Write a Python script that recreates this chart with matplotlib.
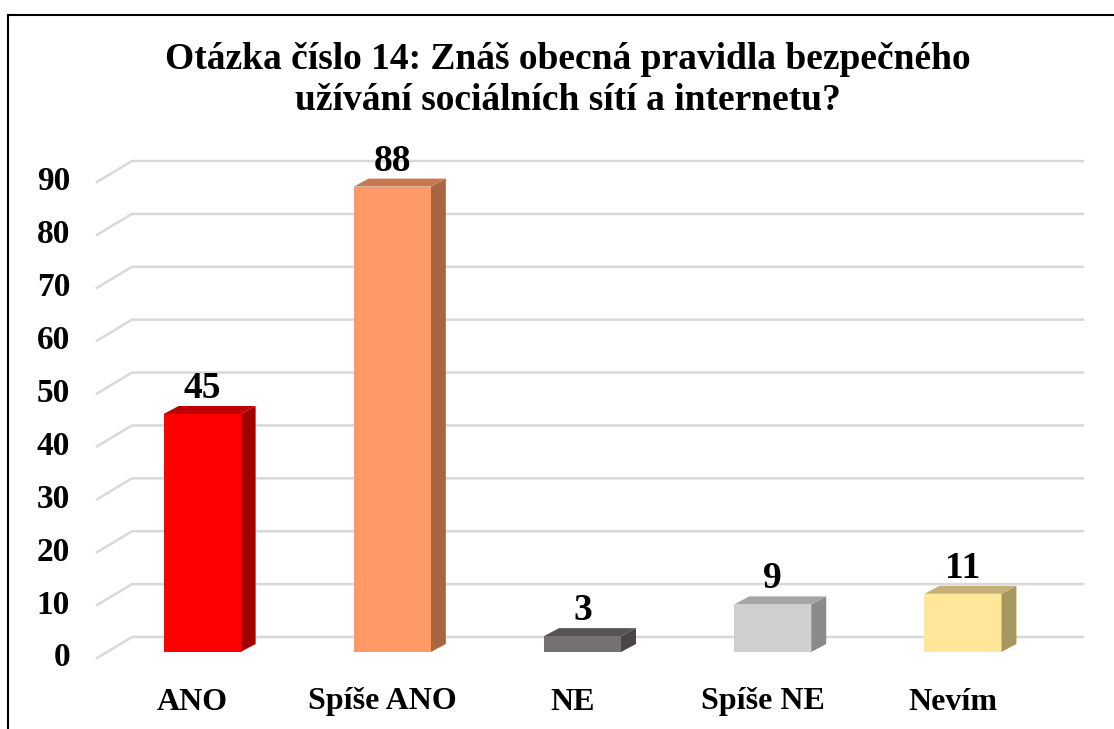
import matplotlib
matplotlib.use("Agg")
import matplotlib.pyplot as plt
from matplotlib.patches import Polygon
from matplotlib.lines import Line2D
import matplotlib.transforms as mtransforms

categories = ["ANO", "Spíše ANO", "NE", "Spíše NE", "Nevím"]
values = [45, 88, 3, 9, 11]
yticks = [0, 10, 20, 30, 40, 50, 60, 70, 80, 90]
title = "Otázka číslo 14: Znáš obecná pravidla bezpečného\nužívání sociálních sítí a internetu?"

front_colors = ["#FF0000", "#FF9966", "#767171", "#D0CECE", "#FFE699"]
top_colors = ["#C00000", "#C8784F", "#575353", "#A5A5A5", "#C6B173"]
side_colors = ["#A00000", "#A86640", "#4A4646", "#8A8A8A", "#A69760"]

plt.rcParams['font.family'] = ['Liberation Serif', 'DejaVu Serif']
plt.rcParams['font.weight'] = 'bold'

fig = plt.figure(figsize=(11.14, 7.29), dpi=100)
W, H = 1114, 729
ax = fig.add_axes([107 / W, 77 / H, 951 / W, 476 / H])
ax.set_xlim(-0.5, 4.5)
ax.set_ylim(0, 90)
ax.axis("off")

def off(dx, dy):
    return mtransforms.offset_copy(ax.transData, fig=fig, x=dx, y=dy, units='dots')

inv = ax.transData.inverted()

def shifted(pt, dx, dy):
    return tuple(inv.transform(off(dx, dy).transform(pt)))

# depth offsets (pixels)
fdx, fdy = -10, -6     # floor front relative to bar plane
bdx, bdy = 25, 15      # back wall relative to bar plane
dx, dy = 15, 8         # bar depth

grid_c = "#D9D9D9"
for v in yticks:
    p0 = shifted((-0.5, v), fdx, fdy)
    p1 = shifted((-0.5, v), bdx, bdy)
    p2 = shifted((4.5, v), bdx, bdy)
    ax.add_line(Line2D([p0[0], p1[0], p2[0]], [p0[1], p1[1], p2[1]],
                       color=grid_c, lw=1.8, zorder=1, clip_on=False))
    ax.text(-0.5, v, str(v), transform=off(-37, fdy), ha='right', va='center',
            fontsize=24, fontweight='bold', color='black')

barw = 0.405
for i, (cat, v) in enumerate(zip(categories, values)):
    x0, x1 = i - barw / 2, i + barw / 2
    side = [(x1, 0), shifted((x1, 0), dx, dy), shifted((x1, v), dx, dy), (x1, v)]
    top = [(x0, v), (x1, v), shifted((x1, v), dx, dy), shifted((x0, v), dx, dy)]
    front = [(x0, 0), (x1, 0), (x1, v), (x0, v)]
    ax.add_patch(Polygon(side, closed=True, facecolor=side_colors[i], edgecolor='none', zorder=3, clip_on=False))
    ax.add_patch(Polygon(top, closed=True, facecolor=top_colors[i], edgecolor='none', zorder=3, clip_on=False))
    ax.add_patch(Polygon(front, closed=True, facecolor=front_colors[i], edgecolor='none', zorder=4, clip_on=False))
    ax.text(i, v, str(v), transform=off(0, 16), ha='center', va='baseline',
            fontsize=27, fontweight='bold', color='black', zorder=5)
    ax.text(i, 0, cat, transform=off(fdx, -50), ha='center', va='center',
            fontsize=23, fontweight='bold', color='black')

fig.text(568 / W, 1 - 80 / H, title, ha='center', va='center', fontsize=27,
         fontweight='bold', linespacing=1.2)

# chart border (left and top)
fig.add_artist(Line2D([8 / W, 8 / W], [0, 1 - 15 / H], transform=fig.transFigure, color='black', lw=1.5))
fig.add_artist(Line2D([8 / W, 1], [1 - 15 / H, 1 - 15 / H], transform=fig.transFigure, color='black', lw=1.5))

fig.savefig("out.png", dpi=100)
